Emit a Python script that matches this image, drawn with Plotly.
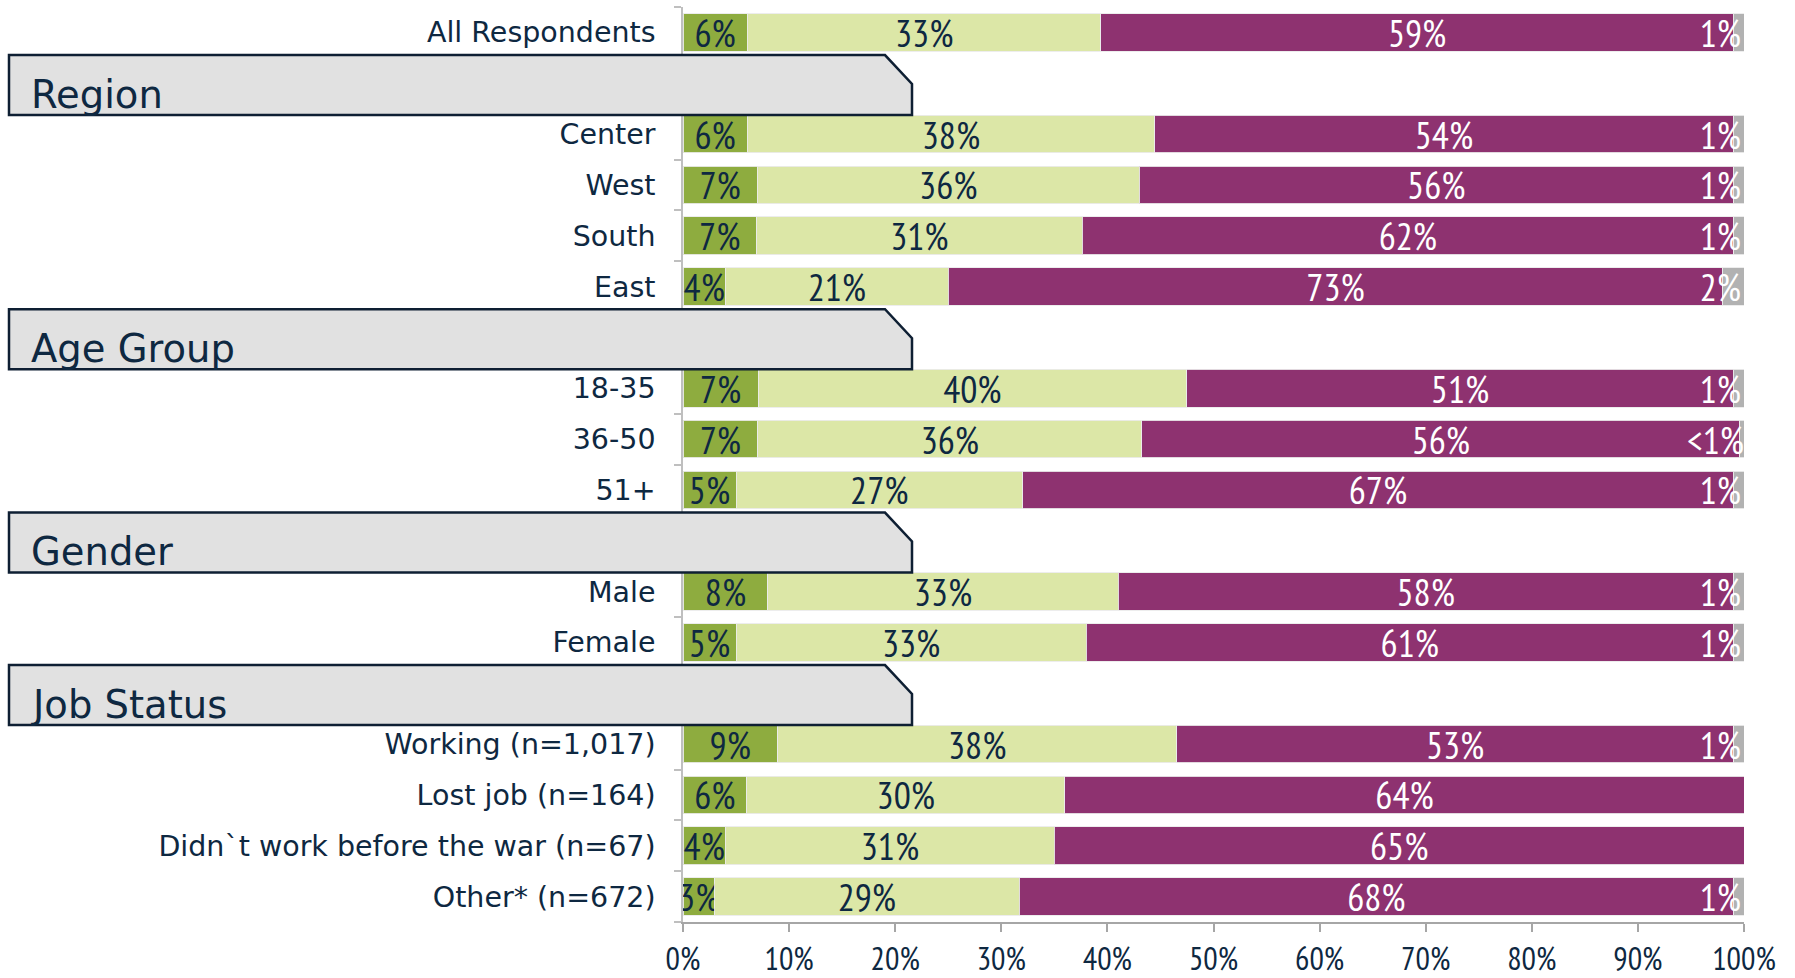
import plotly.graph_objects as go

# Survey rows, top to bottom
categories = [
    "All Respondents",
    "Center", "West", "South", "East",
    "18-35", "36-50", "51+",
    "Male", "Female",
    "Working (n=1,017)", "Lost job (n=164)",
    "Didn`t work before the war (n=67)", "Other* (n=672)",
]
# Section headings and the index of the first row in each section
section_titles = ["Region", "Age Group", "Gender", "Job Status"]
section_starts = [1, 5, 8, 10]

# Shares per answer (percent)
dark_green = [6, 6, 7, 7, 4, 7, 7, 5, 8, 5, 9, 6, 4, 3]
light_green = [33, 38, 36, 31, 21, 40, 36, 27, 33, 33, 38, 30, 31, 29]
purple = [59, 54, 56, 62, 73, 51, 56, 67, 58, 61, 53, 64, 65, 68]
grey = [1, 1, 1, 1, 2, 1, 0.4, 1, 1, 1, 1, 0, 0, 1]

x_ticks = [0, 10, 20, 30, 40, 50, 60, 70, 80, 90, 100]
x_tick_labels = ["0%", "10%", "20%", "30%", "40%", "50%", "60%", "70%", "80%", "90%", "100%"]

NARROW = "PT Sans Narrow, Roboto Condensed, DejaVu Sans Condensed, sans-serif"
WIDE = "DejaVu Sans, Verdana, sans-serif"
NAVY = "#0E2841"
C_DARK = "#8EAC3F"
C_LIGHT = "#DCE7A7"
C_PURPLE = "#8E3270"
C_GREY = "#B2B2B2"

# Slot positions: every section heading takes one slot of its own
row_pos = []
header_pos = []
slot = 0
for i in range(len(categories)):
    if i in section_starts:
        header_pos.append(slot)
        slot += 1
    row_pos.append(slot)
    slot += 1
n_slots = slot


def pct_text(vals):
    out = []
    for v in vals:
        if v == 0:
            out.append("")
        elif v < 1:
            out.append("<1%")
        else:
            out.append(f"{v:g}%")
    return out


fig = go.Figure()
series = [
    (dark_green, C_DARK, NAVY, "middle"),
    (light_green, C_LIGHT, NAVY, "middle"),
    (purple, C_PURPLE, "white", "middle"),
    (grey, C_GREY, "white", "end"),
]
for vals, color, tcolor, anchor in series:
    fig.add_trace(go.Bar(
        x=vals, y=row_pos, orientation="h",
        marker=dict(color=color, line=dict(color="rgba(235,235,235,0.9)", width=1)),
        text=pct_text(vals), textposition="inside", insidetextanchor=anchor,
        textangle=0, constraintext="none",
        textfont=dict(family=NARROW, size=38, color=tcolor),
        hoverinfo="skip", showlegend=False,
    ))

# Section heading tabs (bevelled on the top-right corner)
PX0, PLOT_W = 683, 1061


def px_to_paper(px):
    return (px - PX0) / PLOT_W


xl, xc, xr = px_to_paper(9), px_to_paper(885), px_to_paper(912)
for title, yc in zip(section_titles, header_pos):
    yt, ym, yb = yc - 0.555, yc + 0.015, yc + 0.625
    fig.add_shape(
        type="path", xref="paper", yref="y", layer="above",
        path=f"M {xl},{yt} L {xc},{yt} L {xr},{ym} L {xr},{yb} L {xl},{yb} Z",
        fillcolor="#E1E1E1", line=dict(color="#0E1F33", width=2.5),
    )
    fig.add_annotation(
        x=px_to_paper(29), y=yc, xref="paper", yref="y",
        xanchor="left", yanchor="middle", yshift=-11,
        text=title, showarrow=False,
        font=dict(family=WIDE, size=38.5, color=NAVY),
    )

fig.update_layout(
    width=1795, height=978,
    margin=dict(l=683, r=51, t=7, b=56),
    barmode="stack", barnorm="percent", bargap=0.257,
    plot_bgcolor="white", paper_bgcolor="white",
    font=dict(family=WIDE, color=NAVY),
)
fig.update_xaxes(
    range=[0, 100], tickmode="array", tickvals=x_ticks, ticktext=x_tick_labels,
    automargin=False, showgrid=False, zeroline=False,
    showline=True, linecolor="#A6A6A6", linewidth=2,
    ticks="outside", ticklen=8, tickcolor="#A6A6A6", tickwidth=1.5,
    ticklabelstandoff=0,
    tickfont=dict(family=NARROW, size=32, color=NAVY),
)
fig.update_yaxes(
    range=[n_slots - 0.5, -0.5], tickmode="array",
    tickvals=row_pos, ticktext=categories,
    ticks="", ticklabelstandoff=20, automargin=False,
    showgrid=False, zeroline=False,
    showline=True, linecolor="#BFBFBF", linewidth=1.5,
    tickfont=dict(family=WIDE, size=28.5, color=NAVY),
    minor=dict(tickmode="array", tickvals=[k - 0.5 for k in range(n_slots + 1)],
               ticks="outside", ticklen=7, tickcolor="#BFBFBF", tickwidth=1.5),
)

fig.write_html("out.html")
